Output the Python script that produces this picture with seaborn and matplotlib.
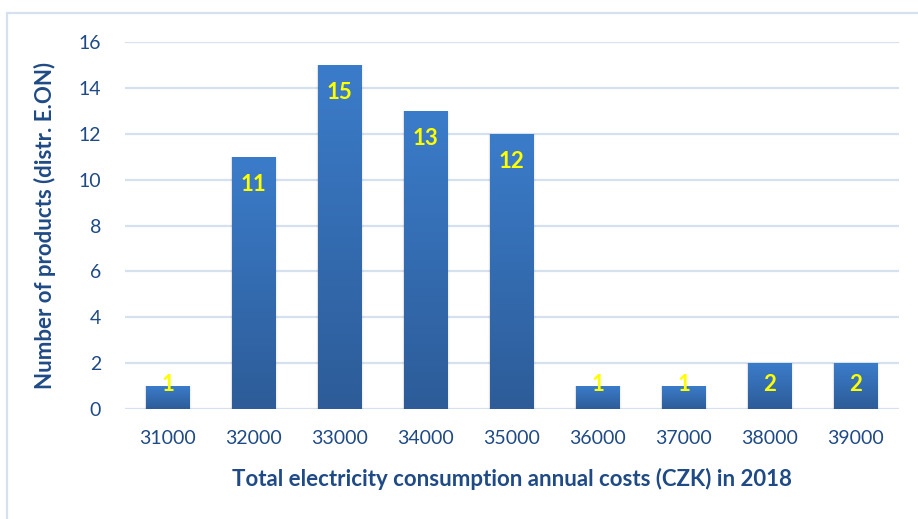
import numpy as np
import pandas as pd
import matplotlib
matplotlib.use("Agg")
import matplotlib.pyplot as plt
from matplotlib.colors import LinearSegmentedColormap
from matplotlib.patches import Rectangle
import seaborn as sns

# Annual cost bins (CZK) and number of products per bin
costs = ["31000", "32000", "33000", "34000", "35000", "36000", "37000", "38000", "39000"]
counts = [1, 11, 15, 13, 12, 1, 1, 2, 2]
y_ticks = [0, 2, 4, 6, 8, 10, 12, 14, 16]

x_title = "Total electricity consumption annual costs (CZK) in 2018"
y_title = "Number of products (distr. E.ON)"

TEXT = "#1F4A85"
GRID = "#D6E1F0"
TOP = "#3B7CCA"
BOTTOM = "#2D5C98"

sns.set_theme(style="white")
plt.rcParams["font.family"] = ["Lato", "DejaVu Sans"]

df = pd.DataFrame({"cost": costs, "count": counts})

fig = plt.figure(figsize=(9.18, 5.19), dpi=100)
ax = fig.add_axes([0.136, 0.212, 0.843, 0.707])

sns.barplot(data=df, x="cost", y="count", ax=ax, color=TOP, width=0.51,
            saturation=1, zorder=3)

ax.set_ylim(0, 16)
ax.set_xlim(-0.5, len(costs) - 0.5)
ax.set_yticks(y_ticks)
ax.yaxis.grid(True, color=GRID, linewidth=1.6, zorder=0)
ax.xaxis.grid(False)
for s in ax.spines.values():
    s.set_visible(False)
ax.tick_params(axis="both", length=0, labelsize=14, colors=TEXT)
ax.tick_params(axis="x", pad=15)
ax.tick_params(axis="y", pad=17)

# vertical gradient fill per bar, light at the top, dark at the base
cmap = LinearSegmentedColormap.from_list("barfill", [BOTTOM, TOP])
grad = np.linspace(0, 1, 256).reshape(-1, 1)
for p in ax.patches:
    x0, y0 = p.get_x(), p.get_y()
    w, h = p.get_width(), p.get_height()
    # soft shadow behind each bar
    for k, a in enumerate([0.05, 0.035, 0.02]):
        off = 0.012 * (k + 1)
        ax.add_patch(Rectangle((x0 - off * 0.6, y0 - 0.06 * (k + 1)), w + off * 1.2,
                               h + 0.06 * (k + 1), facecolor="black", alpha=a,
                               edgecolor="none", zorder=2))
    im = ax.imshow(grad, extent=[x0, x0 + w, y0, y0 + h], origin="lower",
                   cmap=cmap, aspect="auto", zorder=4)
    im.set_clip_path(p)
    p.set_edgecolor("none")

# value labels inside the top of each bar
for i, v in enumerate(counts):
    ax.text(i, max(v - 1.22, 1.08), str(v), ha="center", va="center",
            color="#FFFF00", fontsize=16, fontweight="bold", zorder=6)

ax.set_xlabel(x_title, fontsize=16, fontweight="bold", color=TEXT, labelpad=15)
ax.set_ylabel(y_title, fontsize=16, fontweight="bold", color=TEXT, labelpad=16)

# chart frame (top and left edges)
fig.add_artist(plt.Line2D([0.0076, 0.0076], [0, 0.975], transform=fig.transFigure,
                          color=GRID, linewidth=1.6))
fig.add_artist(plt.Line2D([0.0076, 1.0], [0.975, 0.975], transform=fig.transFigure,
                          color=GRID, linewidth=1.6))

fig.savefig("out.png", dpi=100, facecolor="white")
